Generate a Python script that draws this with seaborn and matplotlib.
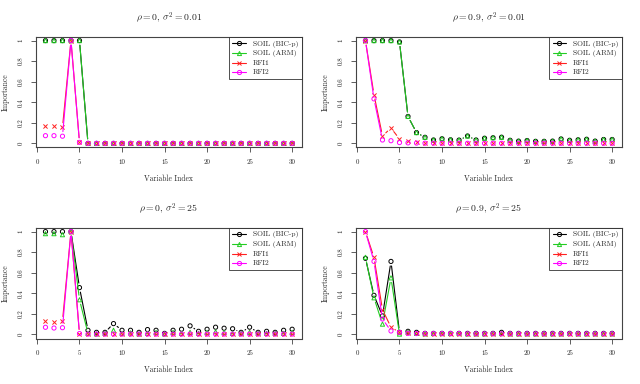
import numpy as np
import pandas as pd
import seaborn as sns
import matplotlib
matplotlib.use("Agg")
import matplotlib.pyplot as plt
from matplotlib.lines import Line2D

# ---------------- data ----------------
var_index = list(range(1, 31))

titles = [r"$\rho = 0,\, \sigma^2 = 0.01$", r"$\rho = 0.9,\, \sigma^2 = 0.01$",
          r"$\rho = 0,\, \sigma^2 = 25$", r"$\rho = 0.9,\, \sigma^2 = 25$"]

series_names = ["SOIL (BIC-p)", "SOIL (ARM)", "RFI1", "RFI2"]

# panel 1: rho = 0, sigma^2 = 0.01
p1_bic = [1, 1, 1, 1, 1] + [0] * 25
p1_arm = [1, 1, 1, 1, 1] + [0] * 25
p1_rfi1 = [0.17, 0.17, 0.157, 1.0, 0.01] + [0] * 25
p1_rfi2 = [0.075, 0.075, 0.07, 1.0, 0.01] + [0] * 25

# panel 2: rho = 0.9, sigma^2 = 0.01
p2_arm = [1, 1, 1, 1, 0.987, 0.262, 0.105, 0.059, 0.033, 0.045,
          0.035, 0.032, 0.072, 0.033, 0.05, 0.055, 0.06, 0.03, 0.022, 0.028,
          0.02, 0.02, 0.022, 0.043, 0.03, 0.035, 0.04, 0.022, 0.038, 0.038]
p2_bic = list(p2_arm)
p2_rfi1 = [1.0, 0.475, 0.072, 0.15, 0.043, 0.026, 0.012, 0.008, 0.006, 0.005,
           0.004, 0.004, 0.003, 0.003, 0.003, 0.003, 0.003, 0.003, 0.002, 0.002,
           0.002, 0.002, 0.002, 0.002, 0.002, 0.002, 0.002, 0.002, 0.002, 0.002]
p2_rfi2 = [1.0, 0.433, 0.033, 0.026, 0.008, 0.005, 0.003, 0.002, 0.002, 0.001,
           0.001, 0.001, 0.001, 0.001, 0.001, 0.001, 0.001, 0.001, 0.001, 0.001,
           0.001, 0.001, 0.001, 0.001, 0.001, 0.001, 0.001, 0.001, 0.001, 0.001]

# panel 3: rho = 0, sigma^2 = 25
p3_bic = [1, 1, 1, 1, 0.455, 0.04, 0.02, 0.02, 0.105, 0.04,
          0.04, 0.02, 0.047, 0.04, 0.01, 0.04, 0.05, 0.083, 0.03, 0.05,
          0.07, 0.06, 0.055, 0.02, 0.07, 0.02, 0.03, 0.02, 0.04, 0.05]
p3_arm = [0.98, 0.98, 0.97, 1.0, 0.337, 0.01, 0.005, 0.01, 0.04, 0.01,
          0.015, 0.005, 0.01, 0.02, 0.005, 0.02, 0.01, 0.02, 0.01, 0.02,
          0.025, 0.02, 0.01, 0.01, 0.02, 0.01, 0.01, 0.01, 0.01, 0.02]
p3_rfi1 = [0.132, 0.122, 0.13, 1.0, 0.003] + [0.002] * 25
p3_rfi2 = [0.069, 0.062, 0.065, 1.0, 0.008] + [0.003] * 25

# panel 4: rho = 0.9, sigma^2 = 25
p4_bic = [0.74, 0.38, 0.18, 0.71, 0.02, 0.03, 0.02, 0.01, 0.01, 0.01,
          0.01, 0.01, 0.01, 0.01, 0.01, 0.01, 0.02, 0.01, 0.01, 0.01,
          0.01, 0.01, 0.01, 0.01, 0.01, 0.01, 0.01, 0.01, 0.01, 0.01]
p4_arm = [0.75, 0.356, 0.10, 0.55, 0.003, 0.02, 0.01, 0.005, 0.008, 0.008,
          0.008, 0.008, 0.005, 0.005, 0.005, 0.008, 0.008, 0.005, 0.005, 0.005,
          0.005, 0.005, 0.005, 0.005, 0.008, 0.005, 0.005, 0.005, 0.005, 0.005]
p4_rfi1 = [1.0, 0.75, 0.24, 0.07, 0.02, 0.012, 0.01, 0.008, 0.008, 0.008,
           0.008, 0.008, 0.006, 0.006, 0.006, 0.006, 0.006, 0.006, 0.006, 0.006,
           0.006, 0.006, 0.006, 0.006, 0.006, 0.006, 0.006, 0.006, 0.006, 0.006]
p4_rfi2 = [1.0, 0.71, 0.15, 0.033, 0.02, 0.01, 0.008, 0.008, 0.008, 0.008,
           0.008, 0.008, 0.006, 0.006, 0.006, 0.006, 0.006, 0.006, 0.006, 0.006,
           0.006, 0.006, 0.006, 0.006, 0.006, 0.006, 0.006, 0.006, 0.006, 0.006]

panels = [
    [p1_bic, p1_arm, p1_rfi1, p1_rfi2],
    [p2_bic, p2_arm, p2_rfi1, p2_rfi2],
    [p3_bic, p3_arm, p3_rfi1, p3_rfi2],
    [p4_bic, p4_arm, p4_rfi1, p4_rfi2],
]

x_ticks = [0, 5, 10, 15, 20, 25, 30]
y_ticks = [0, 0.2, 0.4, 0.6, 0.8, 1]
y_tick_labels = ["0", "0.2", "0.4", "0.6", "0.8", "1"]

# ---------------- style ----------------
sns.set_theme(style="white")
plt.rcParams["font.family"] = ["cmr10", "DejaVu Serif"]
plt.rcParams["mathtext.fontset"] = "cm"
plt.rcParams["axes.formatter.use_mathtext"] = True

colors = ["#000000", "#22CC22", "#FF2020", "#FF00FF"]
markers = ["o", "^", "x", "o"]

W, H = 640, 384
fig = plt.figure(figsize=(W / 100, H / 100), dpi=100)
fig.patch.set_facecolor("white")

boxes = [  # left, top, right, bottom in pixels
    (35.6, 36.5, 302, 147.5),
    (355.6, 36.5, 622, 147.5),
    (35.6, 227.5, 302, 338.5),
    (355.6, 227.5, 622, 338.5),
]

GAP = 4.6  # pixel gap around points (R type = "b")


def gapped(ax, xs, ys, gap):
    out_x, out_y = [], []
    pts = ax.transData.transform(np.column_stack([xs, ys]))
    inv = ax.transData.inverted()
    for i in range(len(xs) - 1):
        p0, p1 = pts[i], pts[i + 1]
        d = p1 - p0
        L = np.hypot(*d)
        if L <= 2 * gap:
            continue
        u = d / L
        q0 = inv.transform(p0 + u * gap)
        q1 = inv.transform(p1 - u * gap)
        out_x += [q0[0], q1[0], np.nan]
        out_y += [q0[1], q1[1], np.nan]
    return out_x, out_y


for k, (l, t, r, b) in enumerate(boxes):
    ax = fig.add_axes([l / W, 1 - b / H, (r - l) / W, (b - t) / H])
    ax.set_xlim(-0.16, 31.16)
    ax.set_ylim(-0.04, 1.04)
    for sp in ax.spines.values():
        sp.set_color("#444444")
        sp.set_linewidth(0.8)
    ax.set_facecolor("white")

    for s, vals in enumerate(panels[k]):
        gx, gy = gapped(ax, np.array(var_index, float), np.array(vals, float), GAP)
        ax.plot(gx, gy, color=colors[s], lw=0.8, zorder=2 + s)
        df = pd.DataFrame({"x": var_index, "y": vals})
        if markers[s] == "x":
            sns.scatterplot(data=df, x="x", y="y", marker="x", color=colors[s],
                            s=9, linewidth=0.7, ax=ax, zorder=2.5 + s, legend=False)
        else:
            sns.scatterplot(data=df, x="x", y="y", marker=markers[s],
                            facecolor="none", edgecolor=colors[s],
                            s=9, linewidth=0.7, ax=ax, zorder=2.5 + s, legend=False)

    ax.set_xticks(x_ticks)
    ax.set_xticklabels([str(v) for v in x_ticks])
    ax.set_yticks(y_ticks)
    ax.set_yticklabels(y_tick_labels, rotation=90, va="center")
    ax.tick_params(axis="both", which="major", direction="out", length=3.5,
                   width=0.6, color="#444444", labelsize=5, pad=5,
                   bottom=True, left=True)
    ax.set_xlabel("Variable Index", fontsize=5.5, labelpad=7)
    ax.set_ylabel("Importance", fontsize=5.5, labelpad=6)
    ax.set_title(titles[k], fontsize=7, pad=11)

    handles = [Line2D([0], [0], color=colors[s], lw=0.8, marker=markers[s],
                      markersize=3, markerfacecolor="none",
                      markeredgecolor=colors[s], markeredgewidth=0.7)
               for s in range(4)]
    leg = ax.legend(handles, series_names, loc="upper right", fontsize=5.4,
                    frameon=True, fancybox=False, borderaxespad=0,
                    handlelength=1.8, handletextpad=0.9, labelspacing=0.35,
                    borderpad=0.5)
    leg.get_frame().set_edgecolor("#222222")
    leg.get_frame().set_linewidth(0.7)
    leg.set_zorder(20)

fig.savefig("out.png", dpi=100, facecolor="white")
